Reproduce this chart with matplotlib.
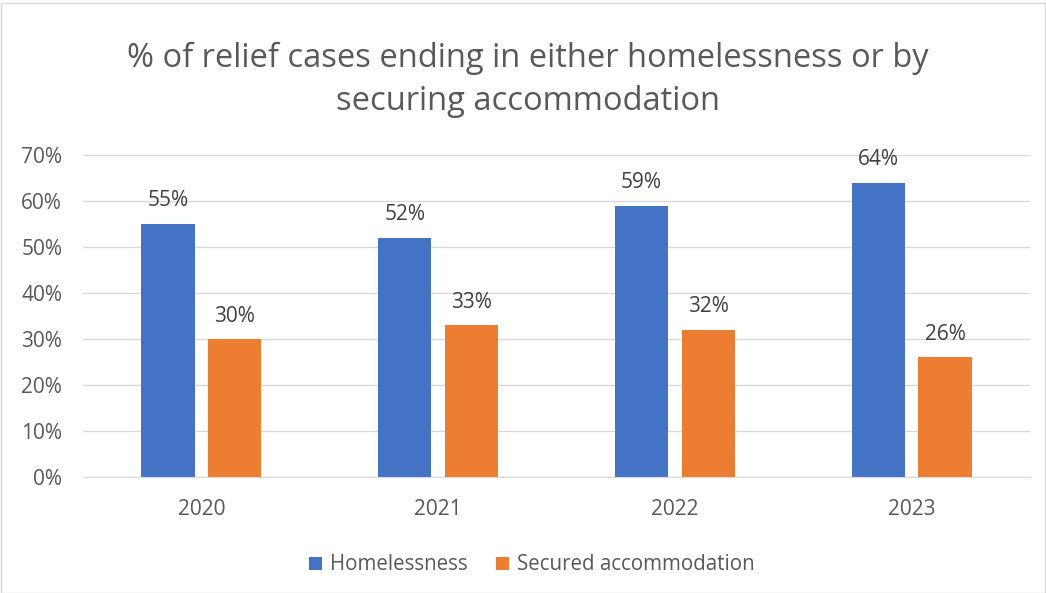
import matplotlib
matplotlib.use("Agg")
import matplotlib.pyplot as plt
import numpy as np
from matplotlib.patches import Rectangle

years = ["2020", "2021", "2022", "2023"]
homelessness = [55, 52, 59, 64]
secured = [30, 33, 32, 26]
yticks = [0, 10, 20, 30, 40, 50, 60, 70]

plt.rcParams['font.family'] = ['Open Sans', 'DejaVu Sans']

fig = plt.figure(figsize=(10.46, 5.93), dpi=100)
ax = fig.add_axes([83/1046, 1-477/593, (1030-83)/1046, (477-155)/593])

x = np.arange(len(years))
w = 0.224
off = 0.141
b1 = ax.bar(x - off, homelessness, w, color="#4472C4", label="Homelessness", zorder=3)
b2 = ax.bar(x + off, secured, w, color="#ED7D31", label="Secured accommodation", zorder=3)

for bars, vals in ((b1, homelessness), (b2, secured)):
    for r, v in zip(bars, vals):
        ax.annotate(f"{v}%", (r.get_x() + r.get_width()/2, v), xytext=(0, 9),
                    textcoords="offset points", ha="center", va="bottom",
                    fontsize=15, color="#404040")

ax.set_xlim(-0.5, 3.5)
ax.set_ylim(0, 70)
ax.set_yticks(yticks)
ax.set_yticklabels([f"{t}%" for t in yticks])
ax.set_xticks(x)
ax.set_xticklabels(years)
ax.tick_params(length=0, labelsize=15, colors="#595959")
ax.tick_params(axis="y", pad=15)
ax.tick_params(axis="x", pad=16)
ax.yaxis.grid(True, color="#D9D9D9", linewidth=1, zorder=0)
for s in ["top", "right", "left"]:
    ax.spines[s].set_visible(False)
ax.spines["bottom"].set_color("#D9D9D9")
ax.spines["bottom"].set_zorder(4)

fig.text(528/1046, 1-80/593, "% of relief cases ending in either homelessness or by\nsecuring accommodation",
         ha="center", va="center", fontsize=23.5, color="#595959", linespacing=1.38)

fig.legend(handles=[b1, b2], loc="center", bbox_to_anchor=(532/1046, 1-565/593), ncol=2,
           frameon=False, fontsize=14.8, labelcolor="#595959", handlelength=0.6,
           handleheight=0.6, handletextpad=0.4, columnspacing=1.4)

fig.patches.append(Rectangle((0.5/1046, 0.5/593), 1044/1046, 590/593, transform=fig.transFigure,
                             fill=False, edgecolor="#D9D9D9", linewidth=1))

fig.savefig("out.png", dpi=100, facecolor="white")
